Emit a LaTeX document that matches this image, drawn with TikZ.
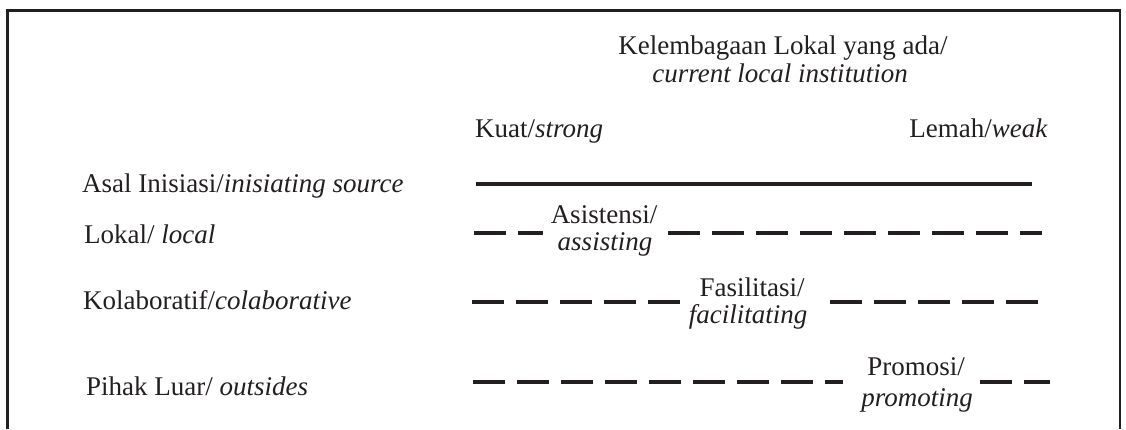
\documentclass[tikz,border=0pt]{standalone}
\usepackage{fontspec}
\setmainfont{Liberation Serif}
\definecolor{ink}{RGB}{35,31,32}
\begin{document}
\begin{tikzpicture}[x=1pt,y=-1pt,
  lbl/.style={inner sep=0pt, font=\fontsize{27}{30}\selectfont, text=ink},
  dashrow/.style={line width=4.2pt, draw=ink, dash pattern=on 32pt off 12pt},
  solidrow/.style={line width=4.4pt, draw=ink},
  framestyle/.style={line width=2.8pt, draw=ink}]
\useasboundingbox (0,0) rectangle (1126,429);
\draw[framestyle] (7.5,429) -- (7.5,10.5) -- (1120,10.5) -- (1120,429);

% header
\node[lbl, anchor=base] (head1) at (783,54) {Kelembagaan Lokal yang ada/};
\node[lbl, anchor=base] (head2) at (780,82) {\itshape current local institution};
\node[lbl, anchor=base west] (kuat) at (475,137) {Kuat/\textit{strong}};
\node[lbl, anchor=base east] (lemah) at (1048,137) {Lemah/\textit{weak}};

% row labels
\node[lbl, anchor=base west] (asal) at (82,192) {Asal Inisiasi/\textit{inisiating source}};
\node[lbl, anchor=base west] (lokal) at (84,243) {Lokal/ \textit{local}};
\node[lbl, anchor=base west] (kolab) at (83,309) {Kolaboratif/\textit{colaborative}};
\node[lbl, anchor=base west] (pihak) at (86,395) {Pihak Luar/ \textit{outsides}};

% in-row labels
\node[lbl, anchor=base] (asis1) at (604,223) {Asistensi/};
\node[lbl, anchor=base] (asis2) at (605,250) {\itshape assisting};
\node[lbl, anchor=base] (fas1) at (752,296) {Fasilitasi/};
\node[lbl, anchor=base] (fas2) at (748,323) {\itshape facilitating};
\node[lbl, anchor=base] (pro1) at (916,375) {Promosi/};
\node[lbl, anchor=base] (pro2) at (917,406) {\itshape promoting};

% line end points
\coordinate (solS) at (476,184);
\coordinate (solE) at (1032,184);
\coordinate (lokS) at (474,233);
\coordinate (lokA) at (543,233);
\coordinate (lokB) at (668,233);
\coordinate (lokE) at (1042,233);
\coordinate (kolS) at (472,302);
\coordinate (kolA) at (680,302);
\coordinate (kolB) at (830,302);
\coordinate (kolE) at (1040,302);
\coordinate (proS) at (473,382);
\coordinate (proA) at (843,382);
\coordinate (proB) at (980,382);
\coordinate (proE) at (1050,382);

\draw[solidrow] (solS) -- (solE);
\draw[dashrow] (lokS) -- (lokA);
\draw[dashrow] (lokB) -- (lokE);
\draw[dashrow] (kolS) -- (kolA);
\draw[dashrow] (kolB) -- (kolE);
\draw[dashrow] (proS) -- (proA);
\draw[dashrow] (proB) -- (proE);
\end{tikzpicture}
\end{document}
